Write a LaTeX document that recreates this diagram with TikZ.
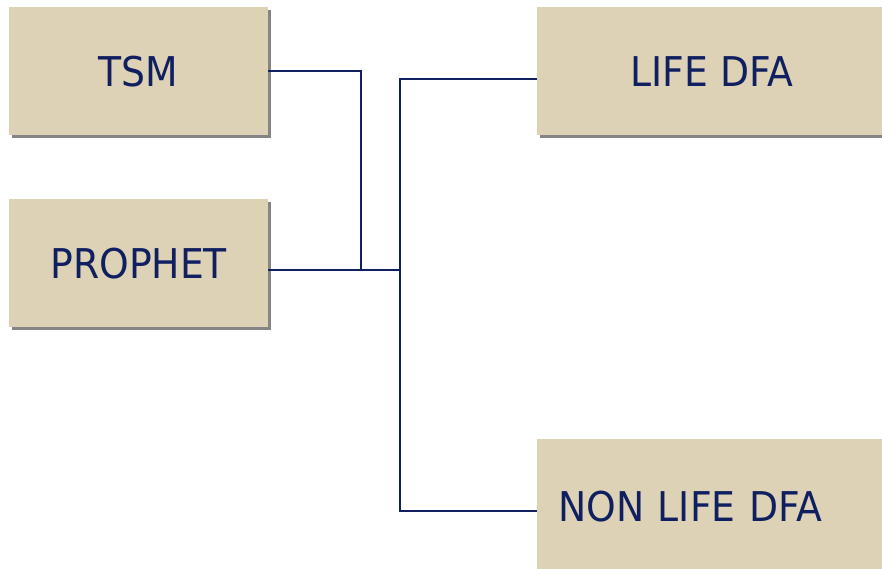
\documentclass[tikz,border=0pt]{standalone}
\usepackage{fontspec}
\setmainfont[FakeStretch=0.92]{DejaVu Sans}
\usetikzlibrary{shadows}
\definecolor{boxfill}{HTML}{DDD2B6}
\definecolor{navy}{HTML}{0F1F5F}
\definecolor{shadowgray}{HTML}{858585}
\begin{document}
\begin{tikzpicture}[x=1pt,y=-1pt,
  box/.style={fill=boxfill, draw=none, anchor=north west, inner sep=0pt,
    minimum width=259pt, minimum height=128pt, text=navy,
    font=\fontsize{41}{41}\selectfont,
    drop shadow={shadow xshift=3pt, shadow yshift=-3pt, fill=shadowgray, opacity=1}},
  conn/.style={draw=navy, line width=2.4pt}]
\useasboundingbox (0,0) rectangle (882,568);
\node[box] (tsm) at (9,7) {TSM};
\node[box] (prophet) at (9,199) {PROPHET};
\node[box, minimum width=350pt] (lifedfa) at (537,7) {LIFE DFA};
\node[box, minimum width=350pt, minimum height=135pt, text width=308pt, inner xsep=21pt, align=left] (nonlife) at (537,439) {NON LIFE DFA};
\coordinate (j1) at (361,270);
\coordinate (b0) at (400,270);
\coordinate (b1) at (400,79);
\coordinate (b2) at (400,511);
\draw[conn] (tsm.east) -| (j1);
\draw[conn] (prophet.east |- b0) -- (b0);
\draw[conn] (lifedfa.west |- b1) -- (b1) -- (b2) -- (nonlife.west |- b2);
\end{tikzpicture}
\end{document}
